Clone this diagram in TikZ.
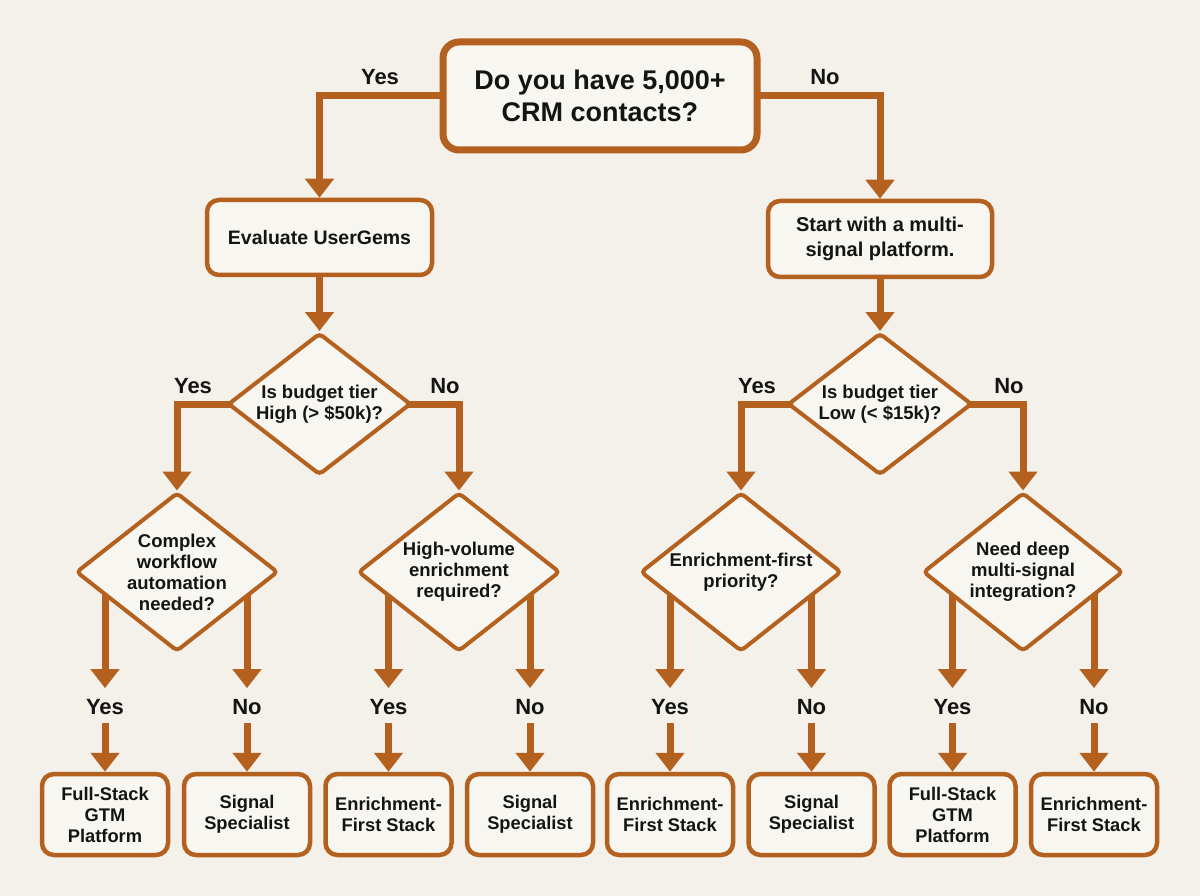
\documentclass[tikz,border=0pt]{standalone}
\usepackage{fontspec}
\setmainfont{Liberation Sans}
\usetikzlibrary{shapes.geometric,arrows.meta}
\definecolor{bgc}{HTML}{F3F1EA}
\definecolor{ln}{HTML}{B4601E}
\definecolor{fillc}{HTML}{F7F6F1}
\definecolor{txt}{HTML}{141414}
\pgfdeclarelayer{back}
\pgfdeclarelayer{lines}
\pgfsetlayers{back,lines,main}
\begin{document}
\begin{tikzpicture}[x=1pt,y=-1pt,
  box/.style={draw=ln, fill=fillc, rounded corners=12pt, line width=4.5pt, align=center, text=txt,
    font=\bfseries\fontsize{18.3}{21}\selectfont, inner sep=0pt},
  dia/.style={draw=ln, fill=fillc, shape=diamond, line width=4pt, rounded corners=4pt, align=center,
    text=txt, font=\bfseries\fontsize{18.5}{21}\selectfont, inner sep=-12pt},
  lab/.style={text=txt, font=\bfseries\fontsize{22}{24}\selectfont, inner sep=0pt},
  conn/.style={draw=ln, line width=7pt, -{Triangle[width=28pt,length=19pt]}},
  leaf/.style={box, minimum width=126pt, minimum height=81pt},
]
\begin{pgfonlayer}{back}
  \fill[bgc] (0,0) rectangle (1200,896);
\end{pgfonlayer}
\useasboundingbox (0,0) rectangle (1200,896);

% top question
\node[box, line width=7pt, rounded corners=16pt, minimum width=314pt, minimum height=108pt,
  font=\bfseries\fontsize{27}{32}\selectfont] (top) at (600,96) {Do you have 5,000+\\CRM contacts?};
\node[lab] (ytop) at (380,77) {Yes};
\node[lab] (ntop) at (825,77) {No};

% second level boxes
\node[box, minimum width=225pt, minimum height=75pt, font=\bfseries\fontsize{19.5}{23}\selectfont]
  (eval) at (319.5,237.5) {Evaluate UserGems};
\node[box, minimum width=224pt, minimum height=76pt, font=\bfseries\fontsize{20}{25}\selectfont]
  (start) at (880,239) {Start with a multi-\\signal platform.};

% budget diamonds
\node[dia, minimum width=183pt, minimum height=142pt] (d1) at (319.5,404) {Is budget tier\\High (> \$50k)?};
\node[dia, minimum width=184pt, minimum height=142pt] (d4) at (880,404) {Is budget tier\\Low (< \$15k)?};
\node[lab] (yd1) at (193,386) {Yes};
\node[lab] (nd1) at (445,386) {No};
\node[lab] (yd4) at (757,386) {Yes};
\node[lab] (nd4) at (1009,386) {No};

% third level diamonds
\node[dia, minimum width=202pt, minimum height=159pt] (d2) at (177,572) {Complex\\workflow\\automation\\needed?};
\node[dia, minimum width=202pt, minimum height=159pt] (d3) at (459,572) {High-volume\\enrichment\\required?};
\node[dia, minimum width=201pt, minimum height=159pt] (d5) at (741,572) {Enrichment-first\\priority?};
\node[dia, minimum width=200pt, minimum height=159pt] (d6) at (1023,572) {Need deep\\multi-signal\\integration?};

% answer labels
\node[lab] (l1) at (105,707) {Yes};
\node[lab] (l2) at (247,707) {No};
\node[lab] (l3) at (388.5,707) {Yes};
\node[lab] (l4) at (530,707) {No};
\node[lab] (l5) at (670,707) {Yes};
\node[lab] (l6) at (811.5,707) {No};
\node[lab] (l7) at (952.5,707) {Yes};
\node[lab] (l8) at (1094,707) {No};

% leaves
\node[leaf] (b1) at (105,814.5) {Full-Stack\\GTM\\Platform};
\node[leaf] (b2) at (247,814.5) {Signal\\Specialist};
\node[leaf] (b3) at (388.5,814.5) {Enrichment-\\First Stack};
\node[leaf] (b4) at (530,814.5) {Signal\\Specialist};
\node[leaf] (b5) at (670,814.5) {Enrichment-\\First Stack};
\node[leaf] (b6) at (811.5,814.5) {Signal\\Specialist};
\node[leaf] (b7) at (952.5,814.5) {Full-Stack\\GTM\\Platform};
\node[leaf] (b8) at (1094,814.5) {Enrichment-\\First Stack};

\begin{pgfonlayer}{lines}
  \draw[conn] (top.center) -| (eval.north);
  \draw[conn] (top.center) -| (start.north);
  \draw[conn] (eval.south) -- (d1.north);
  \draw[conn] (start.south) -- (d4.north);
  \draw[conn] (d1.center) -| (d2.north);
  \draw[conn] (d1.center) -| (d3.north);
  \draw[conn] (d4.center) -| (d5.north);
  \draw[conn] (d4.center) -| (d6.north);
  \draw[conn, shorten >=11pt] (d2.center -| l1.north) -- (l1.north);
  \draw[conn, shorten >=11pt] (d2.center -| l2.north) -- (l2.north);
  \draw[conn, shorten >=11pt] (d3.center -| l3.north) -- (l3.north);
  \draw[conn, shorten >=11pt] (d3.center -| l4.north) -- (l4.north);
  \draw[conn, shorten >=11pt] (d5.center -| l5.north) -- (l5.north);
  \draw[conn, shorten >=11pt] (d5.center -| l6.north) -- (l6.north);
  \draw[conn, shorten >=11pt] (d6.center -| l7.north) -- (l7.north);
  \draw[conn, shorten >=11pt] (d6.center -| l8.north) -- (l8.north);
  \draw[conn, shorten <=8pt] (l1.south) -- (b1.north);
  \draw[conn, shorten <=8pt] (l2.south) -- (b2.north);
  \draw[conn, shorten <=8pt] (l3.south) -- (b3.north);
  \draw[conn, shorten <=8pt] (l4.south) -- (b4.north);
  \draw[conn, shorten <=8pt] (l5.south) -- (b5.north);
  \draw[conn, shorten <=8pt] (l6.south) -- (b6.north);
  \draw[conn, shorten <=8pt] (l7.south) -- (b7.north);
  \draw[conn, shorten <=8pt] (l8.south) -- (b8.north);
\end{pgfonlayer}
\end{tikzpicture}
\end{document}
